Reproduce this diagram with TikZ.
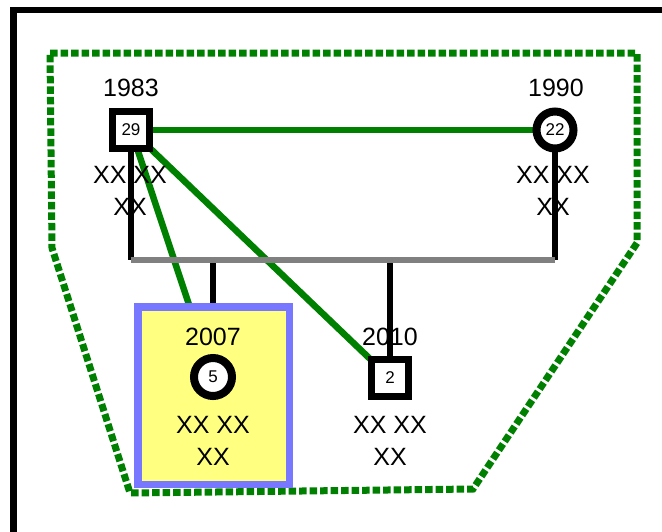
\documentclass[tikz,border=0pt]{standalone}
\usepackage{fontspec}
\setmainfont{Liberation Sans}
\usepackage{tikz}
\definecolor{tiegreen}{HTML}{008000}
\definecolor{sibgray}{HTML}{808080}
\definecolor{boxblue}{HTML}{7777FF}
\definecolor{boxyellow}{HTML}{FFFF80}
\pgfdeclarelayer{edges}
\pgfsetlayers{edges,main}

\begin{document}
\begin{tikzpicture}[x=1pt, y=-1pt,
    man/.style={draw, fill=white, line width=7pt, minimum size=37pt, inner sep=0pt,
      font=\fontsize{17}{17}\selectfont},
    woman/.style={man, circle, line width=8pt},
    yearlbl/.style={font=\fontsize{25}{25}\selectfont},
    namelbl/.style={font=\fontsize{25}{32}\selectfont, align=center},
    tie/.style={tiegreen, line width=6.5pt},
    kin/.style={black, line width=6pt},
    sibline/.style={sibgray, line width=6.5pt},
    kidbox/.style={draw=boxblue, fill=boxyellow, line width=7.5pt, minimum width=151.5pt, minimum height=177.5pt}]
  \clip (0,0) rectangle (662,531);
  % Frame
  \draw[line width=6.5pt] (13.5,10) rectangle (700,600);
  % Household outline
  \draw[tiegreen, line width=7pt, dash pattern=on 7.5pt off 3pt]
    (50,53) -- (637,53) -- (637,243) -- (473,489) -- (130,493) -- (52,248) -- cycle;

  % Parents
  \node[man] (p29) at (131,130) {29};
  \node[yearlbl] (y29) at (131,88) {1983};
  \node[namelbl] (n29) at (130,191) {XX XX\\XX};
  \node[woman] (p22) at (555,130) {22};
  \node[yearlbl] (y22) at (556,88) {1990};
  \node[namelbl] (n22) at (553,191) {XX XX\\XX};

  % Children
  \node[kidbox] (box5) at (213.5,395.5) {};
  \node[woman, minimum size=38pt] (c5) at (213,377) {5};
  \node[yearlbl] (y5) at (213,337) {2007};
  \node[namelbl] (n5) at (213,441) {XX XX\\XX};
  \node[man] (c2) at (390,378) {2};
  \node[yearlbl] (y2) at (390,337) {2010};
  \node[namelbl] (n2) at (390,441) {XX XX\\XX};

  \begin{pgfonlayer}{edges}
    % Relations
    \draw[tie] (p29) -- (p22);
    \foreach \kid in {c5,c2}
      \draw[tie] (p29.center) -- (\kid.center);
    % Descent lines
    \coordinate (s29) at (p29 |- 0,260);
    \coordinate (s22) at (p22 |- 0,260);
    \draw[kin] (p29.center) -- (s29);
    \draw[kin] (p22.center) -- (s22);
    \foreach \kid in {c5,c2}
      \draw[kin] (\kid |- 0,260) -- (\kid.center);
    \draw[sibline] (s29) -- (s22);
  \end{pgfonlayer}
\end{tikzpicture}
\end{document}
